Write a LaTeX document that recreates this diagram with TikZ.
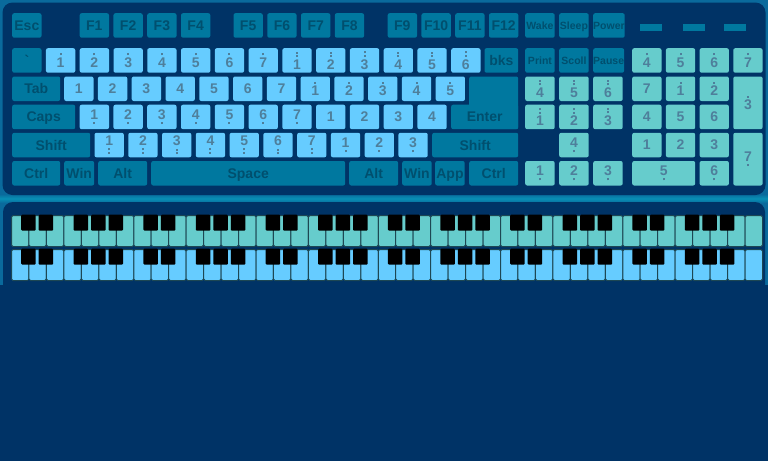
\documentclass[tikz,border=0pt]{standalone}
\usepackage{fontspec}
\setmainfont{Liberation Sans}
\usetikzlibrary{positioning}
\definecolor{nuit}{HTML}{003366}
\definecolor{cadre}{HTML}{0A6A9C}
\definecolor{fonce}{HTML}{00789F}
\definecolor{ciel}{HTML}{66CCFF}
\definecolor{turq}{HTML}{66CCCC}
\definecolor{encre}{HTML}{004F6E}
\definecolor{gris}{HTML}{4E7F9B}
\definecolor{bord}{HTML}{1D4753}
\newcommand{\pnt}{\vrule width 2pt height 2pt depth 0pt}
\newcommand{\nhaut}[1]{\vbox{\offinterlineskip\halign{\hfil##\hfil\cr\pnt\cr\noalign{\kern2.5pt}#1\cr}}}
\newcommand{\nhhaut}[1]{\vbox{\offinterlineskip\halign{\hfil##\hfil\cr\pnt\cr\noalign{\kern1.5pt}\pnt\cr\noalign{\kern2.5pt}#1\cr}}}
\newcommand{\nbas}[1]{\vtop{\offinterlineskip\halign{\hfil##\hfil\cr#1\cr\noalign{\kern2.5pt}\pnt\cr}}}
\newcommand{\nbbas}[1]{\vtop{\offinterlineskip\halign{\hfil##\hfil\cr#1\cr\noalign{\kern2.5pt}\pnt\cr\noalign{\kern1.5pt}\pnt\cr}}}
\tikzset{
  touche/.style={rectangle, rounded corners=2pt, fill=#1, anchor=north west, inner sep=0pt,
                 minimum width=29.3pt, minimum height=24.5pt, font=\bfseries\fontsize{14}{14}\selectfont},
  spec/.style={touche=fonce, text=encre, text height=10pt, text depth=0pt},
  note/.style={touche=ciel, text=gris},
  pave/.style={touche=turq, text=gris},
  petit/.style={font=\bfseries\fontsize{10.5}{10.5}\selectfont, text height=7.6pt},
  voyant/.style={rectangle, fill=fonce, anchor=north west, inner sep=0pt,
                 minimum width=21.5pt, minimum height=7pt},
  blanche/.style={rectangle, draw=bord, line width=1pt, rounded corners=1.5pt, fill=#1,
                  anchor=north west, inner sep=0pt, minimum width=17.465pt, minimum height=31pt},
  noire/.style={rectangle, fill=black, rounded corners=1pt, anchor=north, inner sep=0pt,
                minimum width=14.5pt, minimum height=16pt},
}

\begin{document}
\begin{tikzpicture}[x=1pt, y=-1pt]
  \useasboundingbox (0,0) rectangle (768,461);
  % fond et panneaux
  \fill[nuit] (0,0) rectangle (768,461);
  \fill[cadre] (0,0) rectangle (768,285);
  \shade[top color=cadre, bottom color=cadre, middle color=cadre!75!cyan] (0,194) rectangle (768,203);
  \fill[nuit, rounded corners=10pt] (2.5,2.5) rectangle (765.5,195);
  \fill[nuit, rounded corners=10pt] (3,202) rectangle (765,300);

  % rangee des fonctions
  \node[spec] (esc) at (12,13) {Esc};
  \foreach \f [count=\i from 0] in {1,...,4} \node[spec] (f\f) at ({79.5+33.77*\i},13) {F\f};
  \foreach \f [count=\i from 0] in {5,...,8} \node[spec] (f\f) at ({233.3+33.77*\i},13) {F\f};
  \foreach \f [count=\i from 0] in {9,...,12} \node[spec] (f\f) at ({387.5+33.77*\i},13) {F\f};

  % rangee 2
  \node[spec] (grave) at (12,48) {\textasciigrave};
  \foreach \nb [count=\i] in {1,...,7}
    \node[note] (k2-\i) at ({12+33.77*\i},48) {\nhaut{\nb}};
  \foreach \nb [count=\i from 8] in {1,...,6}
    \node[note] (k2-\i) at ({12+33.77*\i},48) {\nhhaut{\nb}};
  \node[spec, minimum width=33.7pt] (bks) at (484.3,48) {bks};

  % rangee 3
  \node[spec, minimum width=48pt] (tab) at (12,76.3) {Tab};
  \foreach \nb [count=\i from 0] in {1,...,7}
    \node[note] (k3-\i) at ({64+33.77*\i},76.3) {\nb};
  \foreach \nb [count=\i from 7] in {1,...,5}
    \node[note] (k3-\i) at ({64+33.77*\i},76.3) {\nhaut{\nb}};
  \node[spec, minimum width=49pt, minimum height=52.7pt] (entreeh) at (469,76.3) {};

  % rangee 4
  \node[spec, minimum width=63pt] (caps) at (12,104.5) {Caps};
  \foreach \nb [count=\i from 0] in {1,...,7}
    \node[note] (k4-\i) at ({79.5+33.77*\i},104.5) {\nbas{\nb}};
  \foreach \nb [count=\i from 7] in {1,...,4}
    \node[note] (k4-\i) at ({79.5+33.77*\i},104.5) {\nb};
  \node[spec, minimum width=67pt] (entree) at (451,104.5) {Enter};

  % rangee 5
  \node[spec, minimum width=78pt] (shiftg) at (12,132.6) {Shift};
  \foreach \nb [count=\i from 0] in {1,...,7}
    \node[note] (k5-\i) at ({94.3+33.77*\i},132.6) {\nbbas{\nb}};
  \foreach \nb [count=\i from 7] in {1,...,3}
    \node[note] (k5-\i) at ({94.3+33.77*\i},132.6) {\nbas{\nb}};
  \node[spec, minimum width=86pt] (shiftd) at (432,132.6) {Shift};

  % rangee 6
  \node[spec, minimum width=48pt] (ctrlg) at (12,160.8) {Ctrl};
  \node[spec, minimum width=30pt] (wing) at (64,160.8) {Win};
  \node[spec, minimum width=49pt] (altg) at (98,160.8) {Alt};
  \node[spec, minimum width=194pt] (espace) at (151,160.8) {Space};
  \node[spec, minimum width=49pt] (altd) at (349,160.8) {Alt};
  \node[spec, minimum width=29.5pt] (wind) at (402,160.8) {Win};
  \node[spec, minimum width=29.5pt] (app) at (435,160.8) {App};
  \node[spec, minimum width=49pt] (ctrld) at (469,160.8) {Ctrl};

  % bloc du milieu
  \foreach \t [count=\i from 0] in {Wake,Sleep,Power}
    \node[spec, petit, minimum width=29.5pt] (s\i) at ({525+34*\i},13) {\t};
  \foreach \t [count=\i from 0] in {Print,Scoll,Pause}
    \node[spec, petit, minimum width=29.5pt] (p\i) at ({525+34*\i},48) {\t};
  \foreach \nb [count=\i from 0] in {4,5,6}
    \node[pave, minimum width=29.5pt] (m3-\i) at ({525+34*\i},76.3) {\nhhaut{\nb}};
  \foreach \nb [count=\i from 0] in {1,2,3}
    \node[pave, minimum width=29.5pt] (m4-\i) at ({525+34*\i},104.5) {\nhhaut{\nb}};
  \node[pave, minimum width=29.5pt] (m5-1) at (559,132.6) {\nbas{4}};
  \foreach \nb [count=\i from 0] in {1,2,3}
    \node[pave, minimum width=29.5pt] (m6-\i) at ({525+34*\i},160.8) {\nbas{\nb}};

  % voyants
  \foreach \x [count=\i] in {640,683,724} \node[voyant] (v\i) at (\x,24) {};

  % pave numerique
  \foreach \nb [count=\i from 0] in {4,5,6,7}
    \node[pave] (c2-\i) at ({632+33.7*\i},48) {\nhaut{\nb}};
  \node[pave] (c3-0) at (632,76.3) {7};
  \node[pave] (c3-1) at (665.7,76.3) {\nhaut{1}};
  \node[pave] (c3-2) at (699.4,76.3) {\nhaut{2}};
  \node[pave, minimum height=52.7pt] (c3-3) at (733.1,76.3) {\nhaut{3}};
  \foreach \nb [count=\i from 0] in {4,5,6}
    \node[pave] (c4-\i) at ({632+33.7*\i},104.5) {\nb};
  \foreach \nb [count=\i from 0] in {1,2,3}
    \node[pave] (c5-\i) at ({632+33.7*\i},132.6) {\nb};
  \node[pave, minimum height=52.7pt] (c5-3) at (733.1,132.6) {\nbas{7}};
  \node[pave, minimum width=63pt] (c6-0) at (632,160.8) {\nbas{5}};
  \node[pave] (c6-2) at (699.4,160.8) {\nbas{6}};

  % claviers de piano
  \foreach \rg/\col/\yy in {1/turq/215, 2/ciel/249} {
    \foreach \k in {0,...,42}
      \node[blanche=\col] (w\rg-\k) at ({11+17.465*\k},\yy) {};
    \foreach \o in {0,...,5}
      \foreach \b in {1,2,4,5,6}
        \node[noire] (n\rg-\o-\b) at ({11+17.465*(7*\o+\b)},{\yy-0.5}) {};
  }
\end{tikzpicture}
\end{document}
